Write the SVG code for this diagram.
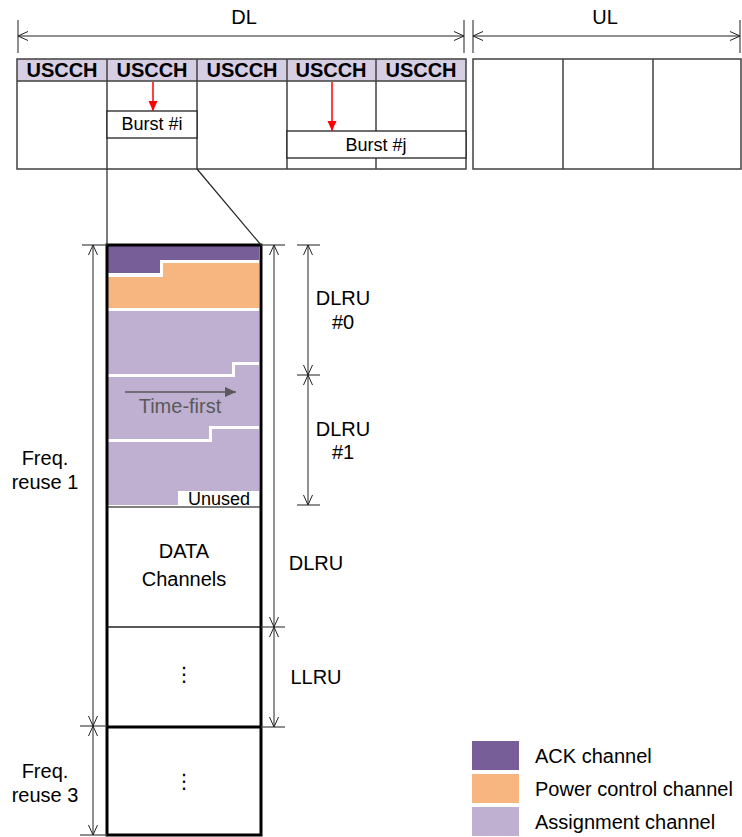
<svg xmlns="http://www.w3.org/2000/svg" width="742" height="837" viewBox="0 0 742 837">
<style>
text{font-family:"Liberation Sans",Arial,sans-serif;fill:#000}
.t20{font-size:20px}
.t18{font-size:18px}
.hd{font-size:20px;font-weight:bold}
.c{text-anchor:middle}
.box{fill:none;stroke:#404040;stroke-width:1.5}
.ln{stroke:#222;stroke-width:1.2;fill:none}
.dim{stroke:#222;stroke-width:1;fill:none;marker-start:url(#oa);marker-end:url(#oa)}
.tick{stroke:#444;stroke-width:1.2}
.ack{fill:#775E98}
.pc{fill:#F7B57F}
.asg{fill:#BFB0D1}
</style>
<defs>
<marker id="oa" viewBox="0 0 10 10" refX="10" refY="5" markerWidth="10" markerHeight="10" markerUnits="userSpaceOnUse" orient="auto-start-reverse">
<path d="M0,0.5 L10,5 L0,9.5" fill="none" stroke="#222" stroke-width="1"/>
</marker>
<marker id="red" viewBox="0 0 10 10" refX="10" refY="5" markerWidth="10" markerHeight="10" markerUnits="userSpaceOnUse" orient="auto">
<path d="M0,0.5 L10,5 L0,9.5 Z" fill="#FF0000"/>
</marker>
<marker id="gr" viewBox="0 0 10 10" refX="10" refY="5" markerWidth="11" markerHeight="11" markerUnits="userSpaceOnUse" orient="auto">
<path d="M0,0.5 L10,5 L0,9.5 Z" fill="#595959"/>
</marker>
</defs>

<g id="dl-frame">
<rect x="17" y="59" width="449" height="22" fill="#D6CEE3"/>
<rect x="17" y="59" width="449" height="110" class="box"/>
<line x1="17" y1="81" x2="466" y2="81" class="box"/>
<line x1="107" y1="59" x2="107" y2="169" class="box"/>
<line x1="197" y1="59" x2="197" y2="169" class="box"/>
<line x1="287" y1="59" x2="287" y2="169" class="box"/>
<line x1="376" y1="59" x2="376" y2="169" class="box"/>
<text class="hd c" x="62" y="77">USCCH</text>
<text class="hd c" x="152" y="77">USCCH</text>
<text class="hd c" x="242" y="77">USCCH</text>
<text class="hd c" x="331" y="77">USCCH</text>
<text class="hd c" x="421" y="77">USCCH</text>
</g>
<g id="burst-i">
<rect x="107" y="111" width="90" height="27" fill="#fff" stroke="#222" stroke-width="1.3"/>
<text class="t18 c" x="152" y="130">Burst #i</text>
</g>
<g id="burst-j">
<rect x="287" y="131" width="179" height="27" fill="#fff" stroke="#222" stroke-width="1.3"/>
<text class="t18 c" x="376" y="151">Burst #j</text>
</g>
<g id="ul-frame">
<rect x="473" y="59" width="268" height="110" class="box"/>
<line x1="563" y1="59" x2="563" y2="169" class="box"/>
<line x1="653" y1="59" x2="653" y2="169" class="box"/>
</g>

<g id="column">
<rect x="107" y="245" width="154" height="590" fill="#fff"/>
<path class="ack" d="M108,246 H259 V260 H160 V273 H108 Z"/>
<path class="pc" d="M108,277 H163 V263 H259 V308 H108 Z"/>
<path class="asg" d="M108,311 H259 V362 H232 V374 H108 Z"/>
<path class="asg" d="M108,377 H235 V365 H259 V426 H209 V439 H108 Z"/>
<path class="asg" d="M108,442 H212 V429 H259 V491 H178 V505 H108 Z"/>
<text class="t18 c" x="219" y="505">Unused</text>
<line x1="107" y1="507" x2="261" y2="507" stroke="#555" stroke-width="1.3"/>
<line x1="107" y1="627" x2="261" y2="627" stroke="#222" stroke-width="1.3"/>
<line x1="107" y1="727" x2="261" y2="727" stroke="#000" stroke-width="3"/>
<rect x="107" y="245" width="154" height="590" fill="none" stroke="#000" stroke-width="3"/>
<text class="t20 c" x="184" y="558">DATA</text>
<text class="t20 c" x="184" y="586">Channels</text>
<text class="t20 c" x="184" y="681" style='font-family:"DejaVu Sans",sans-serif'>⋮</text>
<text class="t20 c" x="184" y="788" style='font-family:"DejaVu Sans",sans-serif'>⋮</text>
</g>

<g id="time-first">
<line x1="125" y1="392" x2="236" y2="392" stroke="#595959" stroke-width="1.5" marker-end="url(#gr)"/>
<text class="t20 c" x="180" y="413" style="fill:#595959">Time-first</text>
</g>

<g id="legend">
<rect x="472" y="741" width="47" height="29" class="ack"/>
<rect x="472" y="774" width="47" height="29" class="pc"/>
<rect x="472" y="807" width="47" height="29" class="asg"/>
<text class="t20" x="535" y="763">ACK channel</text>
<text class="t20" x="535" y="796">Power control channel</text>
<text class="t20" x="535" y="829">Assignment channel</text>
</g>

<g id="labels">
<text class="t20 c" x="244" y="24">DL</text>
<text class="t20 c" x="605" y="24">UL</text>
<text class="t20 c" x="343" y="305">DLRU</text>
<text class="t20 c" x="343" y="329">#0</text>
<text class="t20 c" x="343" y="436">DLRU</text>
<text class="t20 c" x="343" y="459">#1</text>
<text class="t20 c" x="316" y="570">DLRU</text>
<text class="t20 c" x="316" y="684">LLRU</text>
<text class="t20 c" x="45" y="465">Freq.</text>
<text class="t20 c" x="45" y="489">reuse 1</text>
<text class="t20 c" x="45" y="778">Freq.</text>
<text class="t20 c" x="45" y="802">reuse 3</text>
</g>

<g id="connectors">
<line x1="153" y1="82" x2="153" y2="111" stroke="#FF0000" stroke-width="1.5" marker-end="url(#red)"/>
<line x1="332" y1="82" x2="332" y2="131" stroke="#FF0000" stroke-width="1.5" marker-end="url(#red)"/>
<line x1="107" y1="169" x2="107" y2="245" class="ln"/>
<line x1="197" y1="169" x2="261" y2="245" class="ln"/>
<line x1="18" y1="20" x2="18" y2="53" class="tick"/>
<line x1="464" y1="20" x2="464" y2="53" class="tick"/>
<line x1="473" y1="20" x2="473" y2="53" class="tick"/>
<line x1="740" y1="20" x2="740" y2="53" class="tick"/>
<line x1="18" y1="36" x2="464" y2="36" class="dim"/>
<line x1="473" y1="36" x2="740" y2="36" class="dim"/>
<line x1="82" y1="245" x2="107" y2="245" class="tick"/>
<line x1="80" y1="726" x2="107" y2="726" class="tick"/>
<line x1="80" y1="835" x2="107" y2="835" class="tick"/>
<line x1="93" y1="245" x2="93" y2="726" class="dim"/>
<line x1="93" y1="726" x2="93" y2="835" class="dim"/>
<line x1="261" y1="245" x2="285" y2="245" class="tick"/>
<line x1="261" y1="627" x2="285" y2="627" class="tick"/>
<line x1="261" y1="727" x2="285" y2="727" class="tick"/>
<line x1="274" y1="245" x2="274" y2="627" class="dim"/>
<line x1="274" y1="627" x2="274" y2="727" class="dim"/>
<line x1="297" y1="245" x2="320" y2="245" class="tick"/>
<line x1="297" y1="375" x2="320" y2="375" class="tick"/>
<line x1="297" y1="505" x2="320" y2="505" class="tick"/>
<line x1="308" y1="245" x2="308" y2="375" class="dim"/>
<line x1="308" y1="375" x2="308" y2="505" class="dim"/>
</g>
</svg>
